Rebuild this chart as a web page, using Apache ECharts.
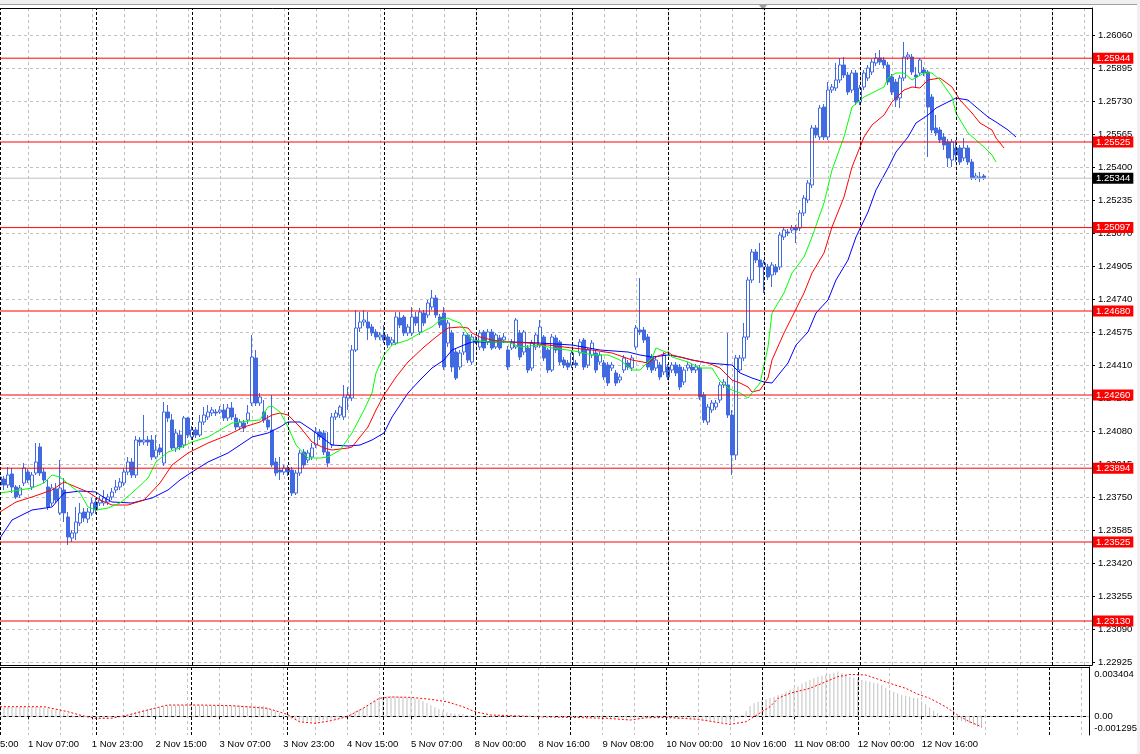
<!DOCTYPE html>
<html><head><meta charset="utf-8">
<script src="https://cdn.jsdelivr.net/npm/echarts@6/dist/echarts.min.js"></script>
<style>html,body{margin:0;padding:0;background:#fff}#c{width:1140px;height:754px}</style>
</head><body><div id="c"></div>
<script>
// ---------------- DATA ----------------
// trading sessions (day label, first hour, last hour)
const sessions = [['29 Oct',15,23],['1 Nov',0,23],['2 Nov',0,23],['3 Nov',0,23],['4 Nov',0,23],['5 Nov',0,22],
  ['8 Nov',0,23],['9 Nov',0,23],['10 Nov',0,23],['11 Nov',0,23],['12 Nov',0,23],['13 Nov',0,23],['14 Nov',0,23]];
const firstBar = '1 Nov 00:00';
const priceTicks = [1.22925,1.23090,1.23255,1.23420,1.23585,1.23750,1.23915,1.24080,1.24245,1.24410,
  1.24575,1.24740,1.24905,1.25070,1.25235,1.25400,1.25565,1.25730,1.25895,1.26060];
const levels = [1.25944,1.25525,1.25097,1.24680,1.24260,1.23894,1.23525,1.23130];
const lastPrice = 1.25344;
const macdLabels = [-0.001295, 0, 0.003404];

const open = [
1.23810,1.23840,1.23810,1.23865,1.23800,1.23760,1.23820,1.23875,1.23800,1.23870,
1.24000,1.23875,1.23800,1.23720,1.23790,1.23670,1.23785,1.23650,1.23545,1.23570,
1.23620,1.23675,1.23640,1.23670,1.23725,1.23720,1.23720,1.23725,1.23750,1.23785,
1.23800,1.23820,1.23875,1.23925,1.23860,1.24035,1.24025,1.24035,1.24035,1.23950,
1.23995,1.23920,1.24175,1.24135,1.23995,1.24060,1.24010,1.24145,1.24050,1.24085,
1.24060,1.24125,1.24150,1.24170,1.24175,1.24175,1.24185,1.24145,1.24195,1.24145,
1.24100,1.24120,1.24135,1.24220,1.24445,1.24220,1.24175,1.24135,1.24085,1.23925,
1.23885,1.23875,1.23895,1.23885,1.23770,1.23870,1.23975,1.23935,1.23950,1.24010,
1.24075,1.24070,1.23975,1.24010,1.24150,1.24160,1.24150,1.24245,1.24245,1.24485,
1.24595,1.24625,1.24625,1.24600,1.24575,1.24550,1.24560,1.24550,1.24520,1.24520,
1.24645,1.24650,1.24570,1.24570,1.24650,1.24575,1.24670,1.24660,1.24700,1.24745,
1.24650,1.24670,1.24520,1.24570,1.24475,1.24400,1.24475,1.24560,1.24425,1.24535,
1.24500,1.24575,1.24525,1.24575,1.24500,1.24545,1.24535,1.24485,1.24495,1.24500,
1.24570,1.24475,1.24495,1.24395,1.24500,1.24510,1.24550,1.24485,1.24385,1.24545,
1.24525,1.24435,1.24420,1.24410,1.24420,1.24470,1.24535,1.24410,1.24460,1.24470,
1.24425,1.24420,1.24410,1.24395,1.24370,1.24335,1.24385,1.24420,1.24395,1.24500,
1.24585,1.24585,1.24550,1.24450,1.24395,1.24410,1.24375,1.24400,1.24385,1.24410,
1.24400,1.24325,1.24395,1.24400,1.24385,1.24395,1.24260,1.24125,1.24185,1.24200,
1.24235,1.24310,1.24310,1.24160,1.23960,1.24385,1.24445,1.24550,1.24835,1.24975,
1.24935,1.24900,1.24900,1.24860,1.24900,1.24900,1.25050,1.25075,1.25085,1.25095,
1.25095,1.25170,1.25235,1.25310,1.25595,1.25550,1.25700,1.25550,1.25785,1.25795,
1.25835,1.25910,1.25860,1.25785,1.25870,1.25725,1.25800,1.25845,1.25875,1.25920,
1.25945,1.25935,1.25910,1.25850,1.25825,1.25745,1.25845,1.25950,1.25950,1.25860,
1.25870,1.25885,1.25875,1.25750,1.25595,1.25585,1.25550,1.25525,1.25435,1.25495,
1.25495,1.25445,1.25495,1.25425,1.25345,1.25350,1.25355];
const close = [
1.23850,1.23810,1.23860,1.23800,1.23750,1.23795,1.23895,1.23835,1.23860,1.23925,
1.23870,1.23835,1.23700,1.23795,1.23735,1.23795,1.23670,1.23550,1.23570,1.23625,
1.23670,1.23645,1.23675,1.23720,1.23685,1.23735,1.23745,1.23750,1.23775,1.23800,
1.23825,1.23875,1.23925,1.23860,1.24035,1.24025,1.24035,1.24025,1.23950,1.23985,
1.23975,1.24175,1.24145,1.23995,1.24070,1.24000,1.24145,1.24060,1.24085,1.24060,
1.24125,1.24160,1.24175,1.24185,1.24170,1.24185,1.24145,1.24195,1.24150,1.24100,
1.24125,1.24095,1.24170,1.24450,1.24220,1.24250,1.24135,1.24100,1.23910,1.23870,
1.23875,1.23895,1.23875,1.23770,1.23870,1.23970,1.23910,1.23970,1.23995,1.24075,
1.24050,1.23975,1.23920,1.24150,1.24170,1.24200,1.24250,1.24260,1.24485,1.24595,
1.24625,1.24635,1.24595,1.24570,1.24550,1.24560,1.24535,1.24510,1.24535,1.24650,
1.24610,1.24570,1.24600,1.24650,1.24620,1.24675,1.24620,1.24720,1.24745,1.24660,
1.24610,1.24400,1.24620,1.24400,1.24345,1.24470,1.24560,1.24435,1.24550,1.24525,
1.24570,1.24495,1.24575,1.24495,1.24560,1.24495,1.24550,1.24400,1.24525,1.24635,
1.24450,1.24575,1.24385,1.24520,1.24560,1.24600,1.24445,1.24385,1.24550,1.24485,
1.24425,1.24410,1.24400,1.24470,1.24410,1.24525,1.24400,1.24485,1.24520,1.24385,
1.24460,1.24350,1.24320,1.24410,1.24320,1.24350,1.24445,1.24400,1.24445,1.24595,
1.24575,1.24535,1.24400,1.24385,1.24435,1.24350,1.24460,1.24350,1.24410,1.24370,
1.24300,1.24385,1.24410,1.24385,1.24400,1.24250,1.24135,1.24200,1.24220,1.24220,
1.24310,1.24325,1.24160,1.23960,1.24445,1.24445,1.24550,1.24835,1.24975,1.24935,
1.24900,1.24920,1.24850,1.24910,1.24875,1.25060,1.25085,1.25070,1.25095,1.25085,
1.25170,1.25245,1.25320,1.25595,1.25560,1.25695,1.25550,1.25785,1.25800,1.25835,
1.25910,1.25860,1.25775,1.25870,1.25725,1.25795,1.25870,1.25895,1.25925,1.25945,
1.25925,1.25910,1.25825,1.25775,1.25735,1.25845,1.25950,1.25960,1.25875,1.25850,
1.25935,1.25870,1.25700,1.25585,1.25570,1.25535,1.25510,1.25445,1.25525,1.25460,
1.25425,1.25495,1.25425,1.25345,1.25355,1.25345,1.25344];
const low = [
1.23795,1.23785,1.23795,1.23770,1.23740,1.23745,1.23805,1.23820,1.23785,1.23860,
1.23855,1.23820,1.23685,1.23705,1.23720,1.23660,1.23625,1.23510,1.23525,1.23535,
1.23605,1.23625,1.23620,1.23655,1.23665,1.23705,1.23705,1.23710,1.23735,1.23770,
1.23785,1.23805,1.23860,1.23845,1.23845,1.24005,1.24010,1.24005,1.23935,1.23940,
1.23960,1.23905,1.24125,1.23985,1.23975,1.23985,1.23995,1.24045,1.24035,1.24045,
1.24050,1.24110,1.24135,1.24155,1.24155,1.24165,1.24130,1.24130,1.24135,1.24085,
1.24085,1.24075,1.24115,1.24205,1.24205,1.24205,1.24120,1.24085,1.23900,1.23855,
1.23835,1.23860,1.23855,1.23755,1.23760,1.23855,1.23895,1.23920,1.23935,1.23995,
1.24035,1.23960,1.23900,1.23995,1.24135,1.24145,1.24135,1.24185,1.24230,1.24475,
1.24575,1.24605,1.24535,1.24555,1.24535,1.24535,1.24520,1.24495,1.24505,1.24510,
1.24595,1.24555,1.24555,1.24555,1.24605,1.24560,1.24605,1.24645,1.24685,1.24645,
1.24595,1.24385,1.24500,1.24375,1.24335,1.24385,1.24460,1.24420,1.24410,1.24515,
1.24485,1.24480,1.24510,1.24485,1.24490,1.24485,1.24520,1.24385,1.24485,1.24490,
1.24435,1.24460,1.24370,1.24380,1.24485,1.24495,1.24430,1.24370,1.24375,1.24470,
1.24410,1.24395,1.24385,1.24395,1.24395,1.24455,1.24385,1.24395,1.24445,1.24370,
1.24410,1.24335,1.24305,1.24380,1.24305,1.24320,1.24370,1.24385,1.24380,1.24485,
1.24560,1.24520,1.24385,1.24370,1.24380,1.24335,1.24360,1.24335,1.24370,1.24355,
1.24285,1.24310,1.24380,1.24370,1.24370,1.24235,1.24120,1.24110,1.24170,1.24185,
1.24220,1.24295,1.24145,1.23860,1.23935,1.24370,1.24430,1.24535,1.24820,1.24920,
1.24820,1.24770,1.24835,1.24800,1.24860,1.24885,1.25035,1.25055,1.25070,1.25020,
1.25080,1.25155,1.25220,1.25295,1.25545,1.25535,1.25535,1.25535,1.25770,1.25780,
1.25820,1.25845,1.25760,1.25770,1.25710,1.25710,1.25785,1.25830,1.25860,1.25905,
1.25910,1.25895,1.25810,1.25760,1.25700,1.25695,1.25830,1.25935,1.25860,1.25795,
1.25855,1.25855,1.25450,1.25570,1.25555,1.25520,1.25485,1.25400,1.25400,1.25425,
1.25410,1.25430,1.25410,1.25335,1.25335,1.25325,1.25335];
const high = [
1.23870,1.23855,1.23900,1.23895,1.23810,1.23810,1.23920,1.23890,1.23875,1.24020,
1.24020,1.23895,1.23835,1.23815,1.23820,1.23935,1.23845,1.23675,1.23585,1.23700,
1.23720,1.23695,1.23695,1.23745,1.23745,1.23755,1.23785,1.23765,1.23795,1.23835,
1.23845,1.23895,1.23950,1.23945,1.24055,1.24050,1.24160,1.24055,1.24060,1.24060,
1.24015,1.24225,1.24210,1.24165,1.24090,1.24085,1.24155,1.24150,1.24105,1.24100,
1.24160,1.24200,1.24210,1.24200,1.24190,1.24205,1.24215,1.24215,1.24225,1.24165,
1.24140,1.24135,1.24210,1.24560,1.24485,1.24270,1.24235,1.24160,1.24260,1.23945,
1.23950,1.23910,1.23910,1.23900,1.23885,1.23985,1.23990,1.23985,1.24020,1.24100,
1.24090,1.24085,1.24075,1.24170,1.24185,1.24210,1.24310,1.24300,1.24510,1.24685,
1.24675,1.24685,1.24675,1.24615,1.24590,1.24575,1.24610,1.24565,1.24550,1.24675,
1.24675,1.24660,1.24615,1.24700,1.24675,1.24695,1.24685,1.24735,1.24785,1.24760,
1.24665,1.24700,1.24635,1.24585,1.24495,1.24485,1.24575,1.24570,1.24565,1.24555,
1.24585,1.24585,1.24590,1.24590,1.24570,1.24560,1.24570,1.24505,1.24540,1.24645,
1.24585,1.24585,1.24510,1.24535,1.24570,1.24635,1.24560,1.24495,1.24565,1.24560,
1.24535,1.24450,1.24435,1.24485,1.24435,1.24540,1.24545,1.24495,1.24535,1.24485,
1.24475,1.24435,1.24425,1.24425,1.24385,1.24365,1.24460,1.24435,1.24460,1.24610,
1.24845,1.24600,1.24565,1.24465,1.24450,1.24425,1.24475,1.24415,1.24425,1.24425,
1.24415,1.24400,1.24425,1.24415,1.24415,1.24410,1.24275,1.24215,1.24235,1.24235,
1.24325,1.24340,1.24570,1.24185,1.24460,1.24460,1.24620,1.24850,1.24990,1.24990,
1.25020,1.24935,1.24915,1.24925,1.24915,1.25075,1.25100,1.25090,1.25110,1.25110,
1.25185,1.25260,1.25335,1.25610,1.25610,1.25710,1.25715,1.25825,1.25815,1.25920,
1.25945,1.25950,1.25875,1.25885,1.25885,1.25810,1.25885,1.25910,1.25940,1.25970,
1.25985,1.25950,1.25925,1.25865,1.25840,1.25860,1.26025,1.25975,1.25965,1.25900,
1.25945,1.25900,1.25885,1.25765,1.25660,1.25600,1.25570,1.25540,1.25540,1.25535,
1.25510,1.25545,1.25510,1.25440,1.25370,1.25375,1.25365];

// Alligator lines, read as [bar index, price]
const jaw = [[0,1.23545],[3,1.23635],[8,1.23685],[13,1.23700],[16,1.23770],[20,1.23780],[24,1.23775],[25,1.23760],[28,1.23725],[33,1.23720],[38,1.23745],[42,1.23785],[45,1.23835],[48,1.23875],[52,1.23925],[57,1.23970],[60,1.24010],[63,1.24050],[67,1.24070],[70,1.24100],[72,1.24125],[75,1.24125],[78,1.24085],[82,1.24025],[83,1.24010],[87,1.24005],[90,1.24010],[93,1.24035],[96,1.24070],[98,1.24150],[102,1.24270],[105,1.24335],[108,1.24395],[111,1.24435],[113,1.24485],[116,1.24510],[118,1.24525],[123,1.24525],[128,1.24525],[135,1.24520],[143,1.24510],[150,1.24485],[157,1.24475],[160,1.24460],[163,1.24450],[167,1.24460],[170,1.24450],[173,1.24435],[177,1.24420],[180,1.24415],[183,1.24410],[185,1.24370],[188,1.24345],[191,1.24325],[193,1.24320],[195,1.24370],[197,1.24420],[199,1.24510],[202,1.24575],[204,1.24670],[207,1.24735],[209,1.24835],[212,1.24935],[214,1.25050],[217,1.25175],[219,1.25285],[222,1.25395],[224,1.25475],[227,1.25550],[229,1.25620],[232,1.25660],[234,1.25695],[237,1.25725],[239,1.25745],[242,1.25735],[244,1.25700],[247,1.25650],[249,1.25625],[252,1.25585],[254,1.25550]];
const teeth = [[0,1.23675],[4,1.23725],[8,1.23750],[13,1.23785],[16,1.23825],[19,1.23800],[22,1.23775],[25,1.23735],[28,1.23710],[32,1.23710],[36,1.23735],[40,1.23820],[43,1.23910],[47,1.23970],[52,1.24020],[57,1.24060],[61,1.24100],[65,1.24125],[68,1.24160],[70,1.24170],[72,1.24160],[75,1.24100],[78,1.24025],[81,1.23995],[83,1.23985],[87,1.23995],[88,1.24000],[92,1.24100],[94,1.24185],[96,1.24260],[99,1.24350],[102,1.24425],[106,1.24500],[109,1.24550],[112,1.24595],[115,1.24600],[117,1.24595],[118,1.24570],[120,1.24550],[123,1.24535],[127,1.24525],[132,1.24520],[137,1.24510],[143,1.24495],[148,1.24485],[153,1.24470],[158,1.24435],[162,1.24420],[164,1.24450],[167,1.24475],[168,1.24460],[173,1.24435],[177,1.24420],[180,1.24395],[183,1.24335],[185,1.24320],[187,1.24300],[188,1.24275],[190,1.24285],[192,1.24345],[193,1.24435],[196,1.24570],[198,1.24650],[201,1.24770],[203,1.24870],[206,1.24970],[208,1.25100],[211,1.25250],[213,1.25400],[216,1.25550],[218,1.25610],[221,1.25660],[223,1.25725],[226,1.25785],[228,1.25800],[230,1.25795],[232,1.25835],[235,1.25845],[238,1.25800],[240,1.25735],[243,1.25670],[245,1.25620],[248,1.25585],[249,1.25545],[251,1.25495]];
const lips = [[0,1.23770],[5,1.23785],[8,1.23795],[11,1.23820],[13,1.23860],[15,1.23850],[18,1.23800],[20,1.23770],[22,1.23700],[24,1.23685],[27,1.23695],[30,1.23720],[33,1.23770],[37,1.23845],[39,1.23925],[42,1.23975],[45,1.23995],[48,1.24025],[52,1.24050],[55,1.24085],[58,1.24120],[62,1.24130],[65,1.24135],[67,1.24200],[68,1.24205],[70,1.24175],[72,1.24100],[74,1.24010],[77,1.23945],[80,1.23945],[82,1.23950],[85,1.23985],[88,1.24070],[91,1.24185],[93,1.24270],[94,1.24370],[96,1.24460],[98,1.24510],[102,1.24535],[105,1.24570],[108,1.24600],[110,1.24635],[112,1.24645],[113,1.24635],[115,1.24620],[117,1.24560],[118,1.24535],[122,1.24525],[127,1.24525],[130,1.24500],[135,1.24510],[138,1.24495],[142,1.24485],[145,1.24475],[148,1.24460],[152,1.24460],[155,1.24435],[158,1.24385],[160,1.24385],[163,1.24445],[164,1.24495],[167,1.24470],[168,1.24450],[172,1.24425],[175,1.24395],[178,1.24395],[180,1.24330],[182,1.24295],[183,1.24285],[185,1.24270],[187,1.24245],[188,1.24270],[190,1.24320],[192,1.24500],[193,1.24670],[196,1.24770],[198,1.24870],[201,1.24950],[203,1.25050],[206,1.25220],[208,1.25385],[211,1.25550],[213,1.25700],[216,1.25750],[218,1.25770],[221,1.25800],[222,1.25845],[224,1.25870],[226,1.25870],[228,1.25835],[231,1.25870],[233,1.25870],[235,1.25835],[238,1.25750],[239,1.25670],[242,1.25570],[244,1.25535],[246,1.25500],[248,1.25460],[249,1.25425]];

// MACD main (histogram), one value per bar
const macdHist = [
0.00070,0.00072,0.00073,0.00072,0.00071,0.00072,0.00073,0.00072,0.00071,0.00072,
0.00071,0.00068,0.00061,0.00053,0.00046,0.00038,0.00030,0.00023,0.00011,0.00004,
-0.00004,-0.00008,-0.00008,-0.00008,-0.00011,-0.00011,-0.00011,-0.00011,-0.00008,-0.00004,
0.00000,0.00004,0.00011,0.00019,0.00030,0.00038,0.00046,0.00053,0.00061,0.00065,
0.00068,0.00076,0.00082,0.00084,0.00085,0.00084,0.00086,0.00085,0.00084,0.00083,
0.00084,0.00085,0.00084,0.00083,0.00084,0.00085,0.00084,0.00083,0.00082,0.00082,
0.00083,0.00080,0.00081,0.00082,0.00080,0.00079,0.00078,0.00068,0.00053,0.00038,
0.00023,0.00008,-0.00015,-0.00023,-0.00030,-0.00038,-0.00038,-0.00038,-0.00038,-0.00038,
-0.00034,-0.00030,-0.00030,-0.00027,-0.00023,-0.00015,-0.00008,0.00008,0.00023,0.00038,
0.00053,0.00068,0.00084,0.00099,0.00122,0.00137,0.00144,0.00152,0.00152,0.00152,
0.00152,0.00148,0.00144,0.00141,0.00137,0.00129,0.00114,0.00099,0.00084,0.00068,
0.00053,0.00038,0.00030,0.00023,0.00019,0.00015,0.00015,0.00011,0.00008,0.00004,
-0.00004,-0.00006,-0.00008,-0.00005,-0.00003,-0.00006,-0.00004,-0.00008,-0.00006,-0.00003,
-0.00005,-0.00004,-0.00007,-0.00006,-0.00004,-0.00003,-0.00005,-0.00007,-0.00006,-0.00004,
-0.00006,-0.00008,-0.00009,-0.00007,-0.00008,-0.00006,-0.00008,-0.00009,-0.00008,-0.00010,
-0.00009,-0.00011,-0.00012,-0.00014,-0.00013,-0.00015,-0.00014,-0.00016,-0.00015,-0.00013,
-0.00010,-0.00011,-0.00013,-0.00014,-0.00015,-0.00016,-0.00014,-0.00015,-0.00017,-0.00016,
-0.00018,-0.00017,-0.00016,-0.00018,-0.00019,-0.00020,-0.00025,-0.00030,-0.00034,-0.00038,
-0.00040,-0.00042,-0.00045,-0.00050,-0.00040,-0.00015,0.00012,0.00038,0.00076,0.00099,
0.00111,0.00122,0.00129,0.00141,0.00149,0.00160,0.00171,0.00186,0.00200,0.00213,
0.00228,0.00247,0.00263,0.00277,0.00289,0.00300,0.00308,0.00314,0.00323,0.00331,
0.00340,0.00327,0.00315,0.00301,0.00293,0.00285,0.00277,0.00270,0.00262,0.00255,
0.00251,0.00236,0.00217,0.00200,0.00186,0.00175,0.00163,0.00156,0.00148,0.00141,
0.00137,0.00114,0.00091,0.00068,0.00042,0.00023,0.00011,0.00002,-0.00008,-0.00019,
-0.00028,-0.00038,-0.00046,-0.00053,-0.00065,-0.00080,-0.00091];
// MACD signal, read as [bar index, value]
const macdSignal = [[0,0.00073],[11,0.00073],[17,0.00035],[21,0.00002],[24,-0.00015],[28,-0.00015],[32,0.00010],[37,0.00048],[42,0.00086],[50,0.00086],[58,0.00081],[67,0.00061],[72,0.00015],[75,-0.00041],[79,-0.00053],[83,-0.00033],[87,-0.00003],[91,0.00061],[95,0.00137],[98,0.00147],[103,0.00144],[108,0.00129],[112,0.00111],[116,0.00073],[119,0.00035],[123,0.00010],[128,0.00005],[135,-0.00003],[143,-0.00008],[152,-0.00015],[158,-0.00028],[162,-0.00011],[167,-0.00008],[175,-0.00023],[183,-0.00061],[187,-0.00041],[189,-0.00003],[193,0.00073],[195,0.00137],[198,0.00175],[203,0.00213],[207,0.00263],[210,0.00301],[213,0.00319],[217,0.00314],[220,0.00283],[223,0.00251],[227,0.00213],[230,0.00169],[233,0.00137],[237,0.00073],[240,0.00010],[243,-0.00041],[246,-0.00079]];

// ---------------- BUILD ----------------
const FONT = '"Liberation Sans", Arial, sans-serif';
const FS = 9.5;
const VISIBLE = 274;
const allCats = [];
sessions.forEach(([d, a, b]) => { for (let h = a; h <= b; h++) allCats.push(d + ' ' + String(h).padStart(2, '0') + ':00'); });
const PAD = allCats.indexOf(firstBar);           // bars before the first visible one
const categories = allCats.slice(PAD, PAD + VISIBLE);
const lastIdx = open.length - 1;
const endIdx = categories.length - 1;
const isLabel = (i) => (i + PAD) % 16 === 0 && i <= lastIdx;
const isGrid = (i) => (i + PAD) % 8 === 0;

const candleData = open.map((o, k) => [o, close[k], low[k], high[k]]);
const separators = categories.filter(c => c.endsWith(' 00:00')).map(c => ({ xAxis: c }));

const gridStyle = { color: '#c0c0c0', type: [3, 3], width: 1 };
const sepStyle = { color: '#000', type: [3, 2], width: 1 };
const blackLine = { show: true, lineStyle: { color: '#000', width: 1 } };
const hidden = { show: false };

// horizontal price lines drawn as two-point line series with a price tag at the right end
const priceLine = (v, lineColor, tagColor) => ({
  type: 'line', xAxisIndex: 0, yAxisIndex: 0, z: 6, silent: true, showSymbol: false,
  data: [[0, v], [endIdx, v]], lineStyle: { color: lineColor, width: 1 },
  endLabel: { show: true, formatter: () => v.toFixed(5), backgroundColor: tagColor, color: '#fff',
    padding: [1, 3, 0, 3], distance: 1, fontSize: FS, fontFamily: FONT }
});

const chart = echarts.init(document.getElementById('c'), null, { renderer: 'canvas' });
const baseGraphic = [
  { type: 'rect', silent: true, shape: { x: 0, y: 0, width: 1140, height: 4 }, style: { fill: '#f0f0f0' } },
  { type: 'line', silent: true, shape: { x1: 0, y1: 4.5, x2: 1140, y2: 4.5 }, style: { stroke: '#a0a0a0', lineWidth: 1 } },
  { type: 'rect', silent: true, shape: { x: 1137, y: 0, width: 3, height: 754 }, style: { fill: '#f0f0f0' } },
  { type: 'polygon', silent: true, shape: { points: [[759, 5], [767, 5], [763, 10]] }, style: { fill: '#a0a0a0' } }
];
chart.setOption({
  animation: false,
  backgroundColor: '#fff',
  textStyle: { fontFamily: FONT },
  grid: [
    { left: 0, top: 8, width: 1092, height: 657, show: false },
    { left: 0, top: 667, width: 1092, height: 68, show: false }
  ],
  xAxis: [
    { type: 'category', gridIndex: 0, data: categories, boundaryGap: false, position: 'bottom',
      axisLine: blackLine, axisTick: hidden, axisLabel: hidden,
      splitLine: { show: true, interval: isGrid, lineStyle: gridStyle } },
    { type: 'category', gridIndex: 1, data: categories, boundaryGap: false, position: 'bottom',
      axisLine: blackLine,
      axisTick: { show: true, interval: isLabel, length: 3, lineStyle: { color: '#000' } },
      axisLabel: { show: true, interval: isLabel, align: 'left', margin: 4,
        color: '#000', fontSize: FS, fontFamily: FONT },
      splitLine: { show: true, interval: isGrid, lineStyle: gridStyle } },
    { type: 'category', gridIndex: 0, data: categories, boundaryGap: false, position: 'top',
      axisLine: blackLine, axisTick: hidden, axisLabel: hidden, splitLine: hidden },
    { type: 'category', gridIndex: 1, data: categories, boundaryGap: false, position: 'top',
      axisLine: blackLine, axisTick: hidden, axisLabel: hidden, splitLine: hidden }
  ],
  yAxis: [
    { type: 'value', gridIndex: 0, position: 'right', min: 1.22910, max: 1.26195,
      axisLine: blackLine,
      axisTick: { show: true, customValues: priceTicks, length: 3, lineStyle: { color: '#000' } },
      axisLabel: { show: true, customValues: priceTicks, formatter: v => v.toFixed(5), margin: 6,
        color: '#000', fontSize: FS, fontFamily: FONT },
      splitLine: { show: true, lineStyle: gridStyle } },
    { type: 'value', gridIndex: 1, position: 'right', min: -0.00142, max: 0.00375,
      axisLine: blackLine, axisTick: hidden,
      axisLabel: { show: true, customValues: macdLabels, margin: 5, color: '#000', fontSize: FS, fontFamily: FONT,
        formatter: v => v === 0 ? '0.00' : (v > 0 ? '{t|' + v.toFixed(6) + '}' : '{b|' + v.toFixed(6) + '}'),
        rich: { t: { padding: [6, 0, 0, 0], fontSize: FS, fontFamily: FONT, color: '#000' },
                b: { padding: [0, 0, 10, 0], fontSize: FS, fontFamily: FONT, color: '#000' } } },
      splitLine: hidden }
  ],
  series: [
    { type: 'line', name: 'sep', xAxisIndex: 0, yAxisIndex: 0, data: [], z: 1,
      markLine: { silent: true, symbol: ['none', 'none'], label: { show: false }, lineStyle: sepStyle, data: separators } },
    { type: 'candlestick', name: 'GBPUSD', xAxisIndex: 0, yAxisIndex: 0, data: candleData, barWidth: 3, z: 3,
      itemStyle: { color: '#ffffff', color0: '#4169E1', borderColor: '#4169E1', borderColor0: '#4169E1', borderWidth: 1 } },
    { type: 'line', name: 'Jaw', xAxisIndex: 0, yAxisIndex: 0, data: jaw, showSymbol: false, z: 4,
      lineStyle: { color: '#0000ff', width: 1 } },
    { type: 'line', name: 'Teeth', xAxisIndex: 0, yAxisIndex: 0, data: teeth, showSymbol: false, z: 4,
      lineStyle: { color: '#ff0000', width: 1 } },
    { type: 'line', name: 'Lips', xAxisIndex: 0, yAxisIndex: 0, data: lips, showSymbol: false, z: 4,
      lineStyle: { color: '#00ff00', width: 1 } },
    ...levels.map(v => priceLine(v, '#ff0000', '#ff0000')),
    priceLine(lastPrice, '#c0c0c0', '#000000'),
    { type: 'bar', name: 'MACD', xAxisIndex: 1, yAxisIndex: 1, data: macdHist, barWidth: 1, z: 3,
      itemStyle: { color: '#c0c0c0' },
      markLine: { silent: true, symbol: ['none', 'none'], label: { show: false },
        data: [{ yAxis: 0, lineStyle: gridStyle }].concat(separators.map(s => ({ xAxis: s.xAxis, lineStyle: sepStyle }))) } },
    { type: 'line', name: 'Signal', xAxisIndex: 1, yAxisIndex: 1, data: macdSignal, showSymbol: false, z: 4,
      lineStyle: { color: '#ff0000', width: 1, type: [2, 2] } }
  ],
  graphic: baseGraphic
});
// time label of the bar that lies just left of the window (partly visible)
const x0 = chart.convertToPixel({ xAxisIndex: 1 }, 0);
const step = chart.convertToPixel({ xAxisIndex: 1 }, 1) - x0;
const axisY = chart.convertToPixel({ yAxisIndex: 1 }, -0.00142);
chart.setOption({ graphic: baseGraphic.concat([{ type: 'text', silent: true, x: x0 - PAD * step, y: axisY + 4,
  style: { text: allCats[0], fill: '#000', fontSize: FS, fontFamily: FONT, align: 'left', verticalAlign: 'top' } }]) });
</script></body></html>
